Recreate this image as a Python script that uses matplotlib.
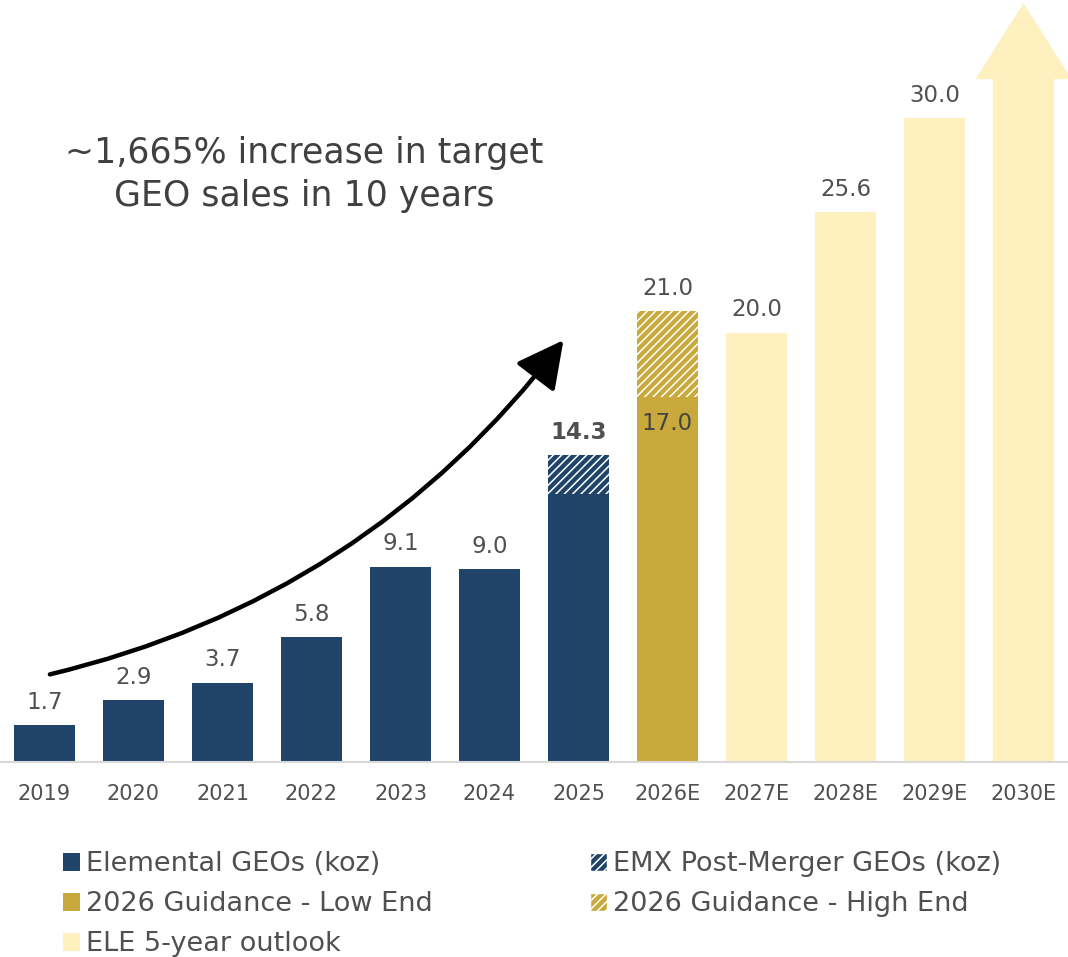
import matplotlib.pyplot as plt
from matplotlib.patches import Patch, Polygon, FancyArrowPatch

plt.rcParams['font.family'] = ['DejaVu Sans']
plt.rcParams['hatch.linewidth'] = 1.1

# data
years = ['2019', '2020', '2021', '2022', '2023', '2024', '2025',
         '2026E', '2027E', '2028E', '2029E', '2030E']
elemental = [1.7, 2.9, 3.7, 5.8, 9.1, 9.0, 12.5]
emx = [1.8]                     # 2025 post-merger top-up
guide_low = [17.0]
guide_high = [4.0]              # 17.0 -> 21.0
outlook = [20.0, 25.6, 30.0]
labels = ['1.7', '2.9', '3.7', '5.8', '9.1', '9.0', '14.3',
          '21.0', '20.0', '25.6', '30.0']
arrow_body_top = 31.8
arrow_tip = 35.35

navy = '#1F4369'
gold = '#C9A93B'
cream = '#FFF0BF'
txt = '#505050'
w = 0.69

fig = plt.figure(figsize=(10.68, 9.57), dpi=100)
ax = fig.add_axes([0, 0.2038, 1, 0.7962])

x_el = list(range(len(elemental)))
ax.bar(x_el, elemental, width=w, color=navy, linewidth=0)
ax.bar([6], emx, bottom=[elemental[6]], width=w, color=navy,
       edgecolor='white', hatch='////', linewidth=0)
ax.bar([7], guide_low, width=w, color=gold, linewidth=0)
ax.bar([7], guide_high, bottom=guide_low, width=w, color=gold,
       edgecolor='white', hatch='////', linewidth=0)
ax.bar([8, 9, 10], outlook, width=w, color=cream, linewidth=0)

# 2030E big arrow
i = 11
hw = 0.54
arrow = Polygon([(i - w / 2, 0), (i + w / 2, 0), (i + w / 2, arrow_body_top),
                 (i + hw, arrow_body_top), (i, arrow_tip), (i - hw, arrow_body_top),
                 (i - w / 2, arrow_body_top)], closed=True, color=cream, lw=0)
ax.add_patch(arrow)

# value labels
tops = [a for a in elemental[:6]] + [elemental[6] + emx[0],
                                     guide_low[0] + guide_high[0]] + outlook
for k, (t, lab) in enumerate(zip(tops, labels)):
    ax.annotate(lab, (k, t), xytext=(0, 8), textcoords='offset points',
                ha='center', va='bottom', fontsize=16.5, color=txt,
                fontweight='bold' if lab == '14.3' else 'normal')
ax.annotate('17.0', (7, guide_low[0]), xytext=(0, -11), textcoords='offset points',
            ha='center', va='top', fontsize=16.5, color='#444444')

# growth arrow
ax.add_patch(FancyArrowPatch((0.03, 4.05), (5.85, 19.75),
                             connectionstyle='arc3,rad=0.18',
                             arrowstyle='-|>,head_length=2.9,head_width=1.5',
                             mutation_scale=10, color='black', lw=3.2))
ax.text(2.92, 27.36, '~1,665% increase in target\nGEO sales in 10 years',
        ha='center', va='center', fontsize=25, color='#404040', linespacing=1.3)

ax.set_xlim(-0.5, 11.5)
ax.set_ylim(0, 35.49)
ax.set_xticks(range(len(years)))
ax.set_xticklabels(years, fontsize=15, color=txt)
ax.tick_params(axis='x', length=0, pad=16)
ax.set_yticks([])
for s in ['top', 'right', 'left']:
    ax.spines[s].set_visible(False)
ax.spines['bottom'].set_color('#D9D9D9')
ax.spines['bottom'].set_linewidth(1.5)

handles = [Patch(facecolor=navy, label='Elemental GEOs (koz)'),
           Patch(facecolor=gold, label='2026 Guidance - Low End'),
           Patch(facecolor=cream, label='ELE 5-year outlook'),
           Patch(facecolor=navy, edgecolor='white', hatch='////',
                 label='EMX Post-Merger GEOs (koz)'),
           Patch(facecolor=gold, edgecolor='white', hatch='////',
                 label='2026 Guidance - High End')]
fig.legend(handles=handles, ncol=2, loc='upper left', bbox_to_anchor=(0.0487, 0.122),
           frameon=False, fontsize=19.5, labelcolor=txt, handlelength=0.63,
           handleheight=0.65, handletextpad=0.22, columnspacing=5.8,
           labelspacing=0.52, borderaxespad=0)

plt.savefig('out.png', dpi=100)
